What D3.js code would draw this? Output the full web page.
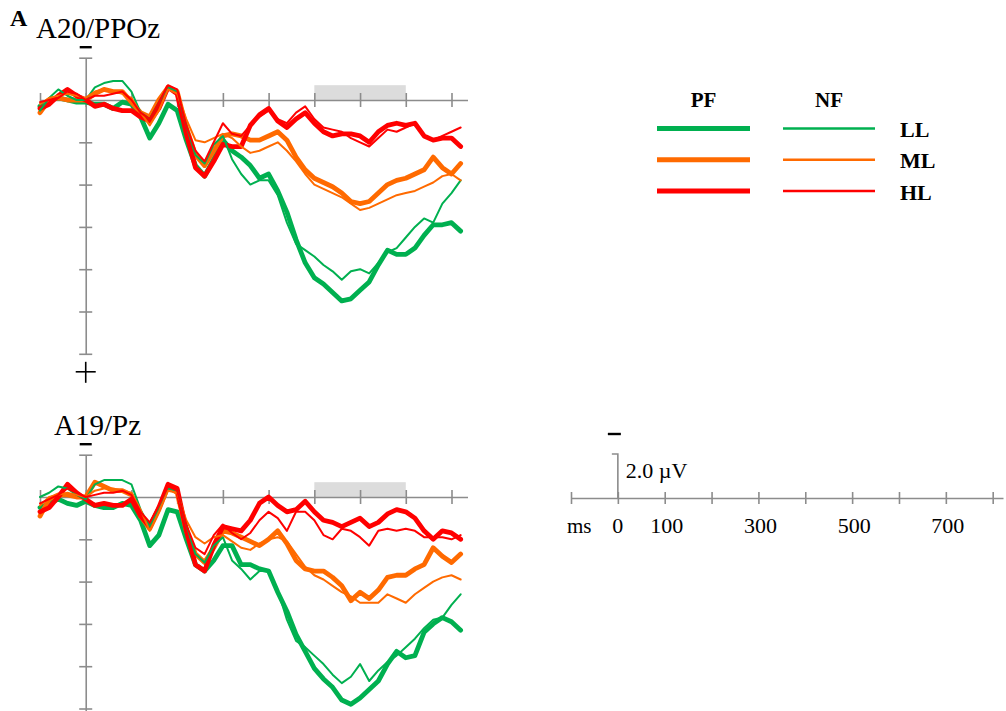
<!DOCTYPE html>
<html>
<head>
<meta charset="utf-8">
<script src="https://cdn.jsdelivr.net/npm/d3@7"></script>
<style>
  html, body { margin: 0; padding: 0; background: #fff; }
  svg { display: block; }
  text { font-family: "Liberation Serif", "Times New Roman", serif; fill: #000; }
</style>
</head>
<body>
<script>
// Sampling times (ms) of the grand-average ERP waveforms
const times = [-100, -80, -60, -40, -20, 0, 20, 40, 60, 80, 100, 120, 140, 160, 180, 200,
  220, 240, 260, 280, 300, 320, 340, 360, 380, 400, 420, 440, 460, 480, 500, 520, 540,
  560, 580, 600, 620, 640, 660, 680, 700, 720, 740, 760, 780, 800, 820];

// Amplitudes in µV (negative plotted upward)
// Electrode A20 / PPOz
const a20PfLL = [0.3, 0.0, -0.1, 0.0, 0.1, 0.1, 0.2, 0.2, 0.4, 0.1, 0.2, 0.8, 1.8, 1.1, 0.2, 0.5,
  1.9, 3.1, 3.6, 2.8, 1.9, 2.4, 2.7, 3.1, 3.7, 3.5, 4.3, 5.3, 6.6, 7.7, 8.4, 8.7, 9.1,
  9.5, 9.4, 9.0, 8.6, 7.8, 7.1, 7.3, 7.3, 7.0, 6.4, 5.9, 5.9, 5.8, 6.2];
const a20NfLL = [0.5, -0.1, -0.5, -0.2, 0.0, 0.0, -0.6, -0.8, -0.9, -0.9, -0.4, 0.6, 0.9, 0.1, -0.6, -0.4,
  1.2, 2.6, 3.0, 2.1, 1.7, 2.8, 3.5, 4.0, 3.8, 3.8, 4.5, 5.8, 6.8, 7.1, 7.4, 7.8, 8.1,
  8.5, 8.1, 8.0, 8.2, 7.7, 7.2, 7.0, 6.5, 6.0, 5.6, 5.8, 4.9, 4.4, 3.8];
const a20PfML = [0.6, 0.0, -0.1, 0.0, 0.0, 0.0, -0.3, -0.5, -0.4, -0.4, 0.1, 0.6, 0.8, 0.0, -0.6, -0.4,
  1.3, 2.6, 3.1, 2.4, 1.7, 1.6, 1.7, 1.9, 1.9, 1.7, 1.5, 1.9, 2.7, 3.3, 3.7, 3.9, 4.1,
  4.4, 4.8, 4.9, 4.8, 4.4, 4.0, 3.8, 3.7, 3.5, 3.3, 2.7, 3.2, 3.5, 3.0];
const a20NfML = [0.2, -0.1, -0.2, -0.3, -0.2, -0.1, -0.4, -0.5, -0.4, -0.3, -0.1, 0.6, 1.2, 0.5, -0.5, -0.3,
  0.9, 1.9, 2.0, 1.8, 1.6, 1.8, 2.2, 2.5, 2.4, 2.2, 2.0, 2.4, 2.9, 3.5, 4.0, 4.2, 4.4,
  4.6, 4.9, 5.2, 5.1, 4.9, 4.7, 4.5, 4.4, 4.3, 4.1, 3.9, 3.6, 3.5, 3.8];
const a20PfHL = [0.4, 0.2, -0.2, -0.5, -0.2, 0.0, 0.3, 0.2, 0.4, 0.5, 0.5, 0.8, 1.0, 0.4, -0.6, -0.3,
  1.6, 3.2, 3.6, 2.9, 2.1, 2.2, 2.2, 1.2, 0.7, 0.4, 1.0, 1.3, 0.9, 0.6, 1.1, 1.5, 1.7,
  1.6, 1.6, 1.7, 2.0, 1.5, 1.2, 1.1, 1.2, 1.1, 1.7, 1.9, 1.8, 1.8, 2.2];
const a20NfHL = [0.1, 0.0, -0.1, -0.4, -0.3, 0.0, -0.2, -0.2, -0.3, -0.4, 0.0, 0.6, 0.9, 0.1, -0.7, -0.5,
  1.2, 2.4, 2.9, 2.0, 1.1, 1.6, 1.7, 1.2, 0.8, 0.5, 0.9, 1.1, 0.6, 0.3, 0.9, 1.3, 1.4,
  1.5, 1.8, 2.0, 2.2, 1.8, 1.4, 1.5, 1.3, 1.1, 1.7, 1.9, 1.7, 1.5, 1.3];

// Electrode A19 / Pz
const a19PfLL = [0.5, 0.3, 0.1, 0.3, 0.4, 0.2, 0.4, 0.5, 0.5, 0.3, 0.4, 1.1, 2.3, 1.8, 0.6, 0.7,
  2.0, 3.2, 3.5, 3.0, 2.3, 2.3, 3.2, 3.2, 3.4, 3.5, 4.5, 5.4, 6.5, 7.3, 8.1, 8.6, 9.0,
  9.6, 9.8, 9.5, 9.1, 8.7, 7.9, 7.3, 7.6, 7.5, 6.4, 6.0, 5.7, 5.9, 6.3];
const a19NfLL = [0.0, -0.2, -0.5, -0.4, -0.1, 0.1, -0.6, -0.8, -0.8, -0.8, -0.6, 0.6, 1.4, 0.6, -0.4, -0.3,
  1.3, 2.7, 3.1, 2.3, 1.9, 3.0, 3.4, 3.9, 3.5, 3.5, 4.4, 5.8, 6.8, 7.1, 7.5, 7.9, 8.4,
  8.8, 8.5, 7.9, 8.7, 8.2, 7.8, 7.5, 7.1, 6.7, 6.2, 5.8, 5.7, 5.1, 4.6];
const a19PfML = [0.9, 0.1, -0.1, -0.1, 0.0, 0.0, -0.7, -0.5, -0.3, -0.3, -0.1, 0.9, 1.5, 0.6, -0.5, -0.2,
  1.6, 2.7, 3.1, 2.4, 1.6, 1.7, 1.9, 2.1, 2.3, 2.0, 1.6, 2.2, 3.0, 3.4, 3.5, 3.5, 3.8,
  4.2, 4.9, 4.5, 4.8, 4.4, 3.8, 3.7, 3.7, 3.4, 3.2, 2.4, 2.8, 3.1, 2.7];
const a19NfML = [0.4, 0.0, -0.1, -0.2, -0.1, 0.0, -0.3, -0.4, -0.4, -0.3, -0.2, 0.6, 1.6, 0.7, -0.3, -0.2,
  1.1, 1.9, 2.2, 1.9, 1.8, 2.1, 2.4, 2.5, 2.2, 2.0, 1.9, 2.1, 2.7, 3.3, 3.7, 3.9, 4.2,
  4.5, 4.7, 5.0, 5.0, 5.0, 4.6, 4.8, 5.0, 4.6, 4.3, 4.0, 3.8, 3.7, 3.9];
const a19PfHL = [0.7, 0.5, 0.0, -0.6, -0.2, 0.1, 0.4, 0.3, 0.4, 0.4, 0.1, 0.9, 1.4, 0.5, -0.6, -0.4,
  1.6, 3.2, 3.5, 2.3, 1.4, 1.5, 1.6, 1.1, 0.3, 0.0, 0.4, 0.7, 0.6, 0.2, 0.7, 1.1, 1.2,
  1.4, 1.2, 1.0, 1.4, 1.2, 0.8, 0.6, 0.7, 1.0, 1.6, 2.0, 1.6, 1.7, 2.0];
const a19NfHL = [0.3, 0.1, -0.1, -0.4, -0.2, 0.0, -0.1, -0.2, -0.2, -0.3, -0.1, 0.7, 1.2, 0.4, -0.5, -0.3,
  1.3, 2.4, 2.7, 1.8, 1.3, 1.7, 2.0, 1.7, 1.1, 0.7, 1.0, 1.6, 0.7, 0.7, 1.1, 1.8, 2.0,
  1.5, 1.6, 1.9, 2.3, 1.6, 1.5, 1.6, 1.5, 1.6, 1.9, 1.9, 1.9, 2.0, 1.8];

// Axis ticks and labels
const msTicks = [-100, 0, 100, 200, 300, 400, 500, 600, 700, 800];
const msLabels = [0, 100, 300, 500, 700];
const uvTicks = [-2, 0, 2, 4, 6, 8, 10, 12];
const analysisWindow = [500, 700];
const scaleBarUv = 2.0;

// Legend categories
const feedbacks = ["PF", "NF"];
const loads = ["LL", "ML", "HL"];
const loadColors = { LL: "#00b050", ML: "#ff6a00", HL: "#ff0000" };
const feedbackWidths = { PF: 4.8, NF: 2.0 };

const W = 1006, H = 711;
const svg = d3.select("body").append("svg").attr("width", W).attr("height", H);

const AXIS_COLOR = "#8c8c8c";
const x = d3.scaleLinear().domain([-100, 835]).range([40, 467.5]);

const panels = [
  { name: "A20", title: "A20/PPOz", titleX: 36, titleY: 38, top: 57.7, plus: true,
    series: { PF: { LL: a20PfLL, ML: a20PfML, HL: a20PfHL }, NF: { LL: a20NfLL, ML: a20NfML, HL: a20NfHL } } },
  { name: "A19", title: "A19/Pz", titleX: 54, titleY: 435, top: 454.7, plus: false,
    series: { PF: { LL: a19PfLL, ML: a19PfML, HL: a19PfHL }, NF: { LL: a19NfLL, ML: a19NfML, HL: a19NfHL } } }
];

// Panel letter
svg.append("text").attr("x", 10).attr("y", 26)
  .attr("font-size", 24).attr("font-weight", "bold").text("A");

panels.forEach(p => {
  const y = d3.scaleLinear().domain([-2, 12]).range([p.top, p.top + 14 * 21.15]);
  const g = svg.append("g").attr("class", "panel-" + p.name);

  svg.append("text").attr("x", p.titleX).attr("y", p.titleY)
    .attr("font-size", 29).text(p.title);

  // shaded analysis window above the baseline
  g.append("rect")
    .attr("x", x(analysisWindow[0])).attr("width", x(analysisWindow[1]) - x(analysisWindow[0]))
    .attr("y", y(-0.7)).attr("height", y(0) - y(-0.7))
    .attr("fill", "#dcdcdc");

  // time axis through 0 µV with cross ticks
  const xa = g.append("g").attr("transform", `translate(0,${y(0)})`)
    .call(d3.axisBottom(x).tickValues(msTicks).tickSize(7).tickSizeOuter(0).tickFormat(""));
  xa.select(".domain").attr("stroke", AXIS_COLOR).attr("stroke-width", 1.6);
  xa.selectAll(".tick line").attr("y1", -7).attr("stroke", AXIS_COLOR).attr("stroke-width", 1.6);

  // amplitude axis through 0 ms
  const ya = g.append("g").attr("transform", `translate(${x(0)},0)`)
    .call(d3.axisLeft(y).tickValues(uvTicks).tickSize(6.5).tickSizeOuter(0).tickFormat(""));
  ya.select(".domain").attr("stroke", AXIS_COLOR).attr("stroke-width", 1.6);
  ya.selectAll(".tick line").attr("x1", 6.5).attr("stroke", AXIS_COLOR).attr("stroke-width", 1.6);

  // polarity markers
  g.append("line").attr("x1", x(0) - 6).attr("x2", x(0) + 6)
    .attr("y1", y(-2) - 10.5).attr("y2", y(-2) - 10.5)
    .attr("stroke", "#000").attr("stroke-width", 2.4);
  if (p.plus) {
    const cy = y(12) + 18;
    g.append("line").attr("x1", x(0) - 10).attr("x2", x(0) + 10).attr("y1", cy).attr("y2", cy)
      .attr("stroke", "#000").attr("stroke-width", 1.6);
    g.append("line").attr("x1", x(0)).attr("x2", x(0)).attr("y1", cy - 10).attr("y2", cy + 11)
      .attr("stroke", "#000").attr("stroke-width", 1.6);
  }

  const line = d3.line().x((d, i) => x(times[i])).y(d => y(d));
  feedbacks.forEach(fb => {
    loads.forEach(ld => {
      g.append("path")
        .datum(p.series[fb][ld])
        .attr("d", line)
        .attr("fill", "none")
        .attr("stroke", loadColors[ld])
        .attr("stroke-width", feedbackWidths[fb])
        .attr("stroke-linejoin", "round")
        .attr("stroke-linecap", "round");
    });
  });
});

// Legend
const legend = svg.append("g").attr("class", "legend");
const legX = { PF: [657, 750], NF: [783, 875] };
const legRowY = d3.scalePoint().domain(loads).range([128.5, 191]);
feedbacks.forEach(fb => {
  legend.append("text").attr("x", (legX[fb][0] + legX[fb][1]) / 2).attr("y", 107)
    .attr("text-anchor", "middle").attr("font-size", 21).attr("font-weight", "bold").text(fb);
  loads.forEach(ld => {
    legend.append("line")
      .attr("x1", legX[fb][0]).attr("x2", legX[fb][1])
      .attr("y1", legRowY(ld)).attr("y2", legRowY(ld))
      .attr("stroke", loadColors[ld]).attr("stroke-width", feedbackWidths[fb] + 0.4);
  });
});
loads.forEach(ld => {
  legend.append("text").attr("x", 900).attr("y", legRowY(ld) + 8.5)
    .attr("font-size", 22).attr("font-weight", "bold").text(ld);
});

// Scale reference: time axis and amplitude bar
const sx = d3.scaleLinear().domain([-100, 822]).range([571, 1003]);
const sy = d3.scaleLinear().domain([-scaleBarUv, 0]).range([454, 498]);
const sb = svg.append("g").attr("class", "scale");
const sa = sb.append("g").attr("transform", `translate(0,${sy(0)})`)
  .call(d3.axisBottom(sx).tickValues(msTicks).tickSize(6).tickSizeOuter(0).tickFormat(""));
sa.select(".domain").attr("stroke", AXIS_COLOR).attr("stroke-width", 1.6);
sa.selectAll(".tick line").attr("y1", -6).attr("stroke", AXIS_COLOR).attr("stroke-width", 1.6);

sb.append("path")
  .attr("d", `M${sx(0) - 6},${sy(-scaleBarUv)}H${sx(0)}V${sy(0)}`)
  .attr("fill", "none").attr("stroke", AXIS_COLOR).attr("stroke-width", 1.6);
sb.append("line").attr("x1", sx(0) - 10).attr("x2", sx(0) + 3)
  .attr("y1", sy(-scaleBarUv) - 20).attr("y2", sy(-scaleBarUv) - 20)
  .attr("stroke", "#000").attr("stroke-width", 2.4);
sb.append("text").attr("x", sx(0) + 8).attr("y", 478).attr("font-size", 22)
  .text(scaleBarUv.toFixed(1) + " µV");

sb.append("text").attr("x", 567).attr("y", 533).attr("font-size", 21).text("ms");
msLabels.forEach(v => {
  sb.append("text").attr("x", sx(v) + (v === 0 ? 0 : 2)).attr("y", 533)
    .attr("text-anchor", "middle").attr("font-size", 22).text(v);
});
</script>
</body>
</html>
